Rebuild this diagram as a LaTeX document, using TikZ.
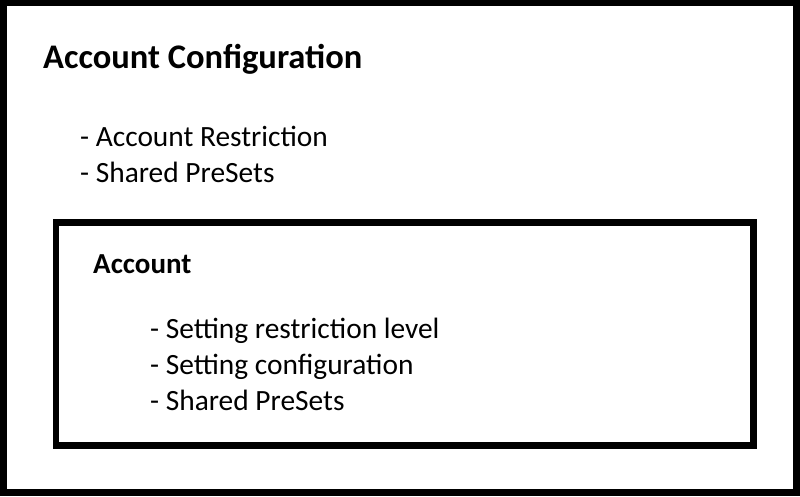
\documentclass[tikz,border=0pt]{standalone}
\usepackage{fontspec}
\setmainfont{Carlito}
\usepackage{tikz}
\usetikzlibrary{calc}
\usetikzlibrary{positioning}
\tikzstyle{outerframe} = [draw, line width=7pt]
\tikzstyle{innerframe} = [draw, line width=6.5pt]
\tikzstyle{headtext} = [anchor=base west, inner sep=0pt, font=\bfseries\fontsize{34.5}{40}\selectfont]
\tikzstyle{subheadtext} = [anchor=base west, inner sep=0pt, font=\bfseries\fontsize{29}{35}\selectfont]
\tikzstyle{itemtext} = [anchor=base west, inner sep=0pt, font=\fontsize{29.4}{35}\selectfont]

\begin{document}
\begin{tikzpicture}[x=1pt, y=-1pt]
  \useasboundingbox (0,0) rectangle (800,496);
  \fill[white] (0,0) rectangle (800,496);
  \draw[outerframe] (3.5,2.5) rectangle (796.5,492);
  \draw[innerframe] (56,222.5) rectangle (753.5,445.5);

  \node[headtext] (config) at (43,68) {Account Configuration};
  \node[itemtext] (restrict) at (80,146) {- Account Restriction};
  \node[itemtext] (presets) at (80,182) {- Shared PreSets};

  \node[subheadtext] (account) at (93,273) {Account};
  \node[itemtext] (level) at (150,338) {- Setting restriction level};
  \node[itemtext] (setconf) at (150,374) {- Setting configuration};
  \node[itemtext] (accpresets) at (150,410) {- Shared PreSets};
\end{tikzpicture}
\end{document}
